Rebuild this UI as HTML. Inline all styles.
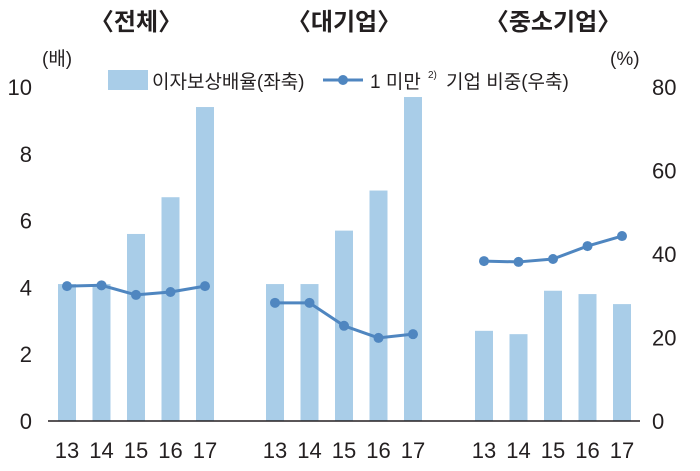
<!DOCTYPE html>
<html><head><meta charset="utf-8"><style>
body{margin:0;background:#fff}
svg text{font-family:"Liberation Sans","Noto Sans CJK KR",sans-serif;fill:#231f20}
</style></head><body>
<svg width="700" height="466" viewBox="0 0 700 466">
<g id="g"></g>
</svg>
<script>
const years=["13","14","15","16","17"];
const groups=["〈전체〉","〈대기업〉","〈중소기업〉"];
const ratioAll=[4.1,4.1,5.6,6.7,9.4];
const ratioLarge=[4.1,4.1,5.7,6.9,9.7];
const ratioSme=[2.7,2.6,3.9,3.8,3.5];
const shareAll=[32.3,32.5,30.2,30.9,32.3];
const shareLarge=[28.3,28.3,22.8,19.9,20.8];
const shareSme=[38.3,38.1,38.8,41.9,44.3];
const leftTicks=[0,2,4,6,8,10];
const rightTicks=[0,20,40,60,80];
const ratios=[ratioAll,ratioLarge,ratioSme];
const shares=[shareAll,shareLarge,shareSme];
const NS="http://www.w3.org/2000/svg";
const g=document.getElementById('g');
const y0=421,y1=87;
const yL=v=>y0-(y0-y1)*v/10;
const yR=v=>y0-(y0-y1)*v/80;
const gx0=[67,275,484],step=34.5;
const xPos=(gi,i)=>gx0[gi]+i*step;
function mk(t,a,txt){const e=document.createElementNS(NS,t);for(const k in a)e.setAttribute(k,a[k]);if(txt!==undefined)e.textContent=txt;g.appendChild(e);return e;}
leftTicks.forEach(v=>{const e=mk('text',{x:32,y:yL(v)+8,'text-anchor':'end','font-size':22},v);

});
rightTicks.forEach(v=>{const e=mk('text',{x:652,y:yR(v)+8,'font-size':22},v);

});
let e=mk('text',{x:42,y:65,'font-size':19},'(배)');

e=mk('text',{x:610,y:65,'font-size':19},'(%)');

groups.forEach((t,gi)=>{const e=mk('text',{x:xPos(gi,2),y:30,'text-anchor':'middle','font-size':24,'font-weight':'bold'},t);

});
ratios.forEach((arr,gi)=>arr.forEach((v,i)=>{const e=mk('rect',{x:xPos(gi,i)-9,y:yL(v),width:18,height:y0-yL(v),fill:'#a9cde8'});

}));
e=mk('line',{x1:48,x2:640,y1:y0,y2:y0,stroke:'#231f20','stroke-width':1.5});

shares.forEach((arr,gi)=>{const pts=arr.map((v,i)=>xPos(gi,i)+','+yR(v)).join(' ');
const l=mk('polyline',{points:pts,fill:'none',stroke:'#4f86c0','stroke-width':3});


arr.forEach((v,i)=>{const c=mk('circle',{cx:xPos(gi,i),cy:yR(v),r:5,fill:'#4f86c0'});

});});
years.forEach((yy,i)=>[0,1,2].forEach(gi=>{const e=mk('text',{x:xPos(gi,i),y:458,'text-anchor':'middle','font-size':22},yy);

}));
e=mk('rect',{x:108,y:70,width:40,height:20,fill:'#a9cde8'});

e=mk('text',{x:152,y:88,'font-size':19},'이자보상배율(좌축)');

e=mk('line',{x1:323,x2:363,y1:80,y2:80,stroke:'#4f86c0','stroke-width':3});

e=mk('circle',{cx:343,cy:80,r:5,fill:'#4f86c0'});

e=mk('text',{x:370,y:88,'font-size':19},'1 미만');

e=mk('text',{x:428,y:78,'font-size':10},'2)');

e=mk('text',{x:446,y:88,'font-size':19},'기업 비중(우축)');

</script>
</body></html>
